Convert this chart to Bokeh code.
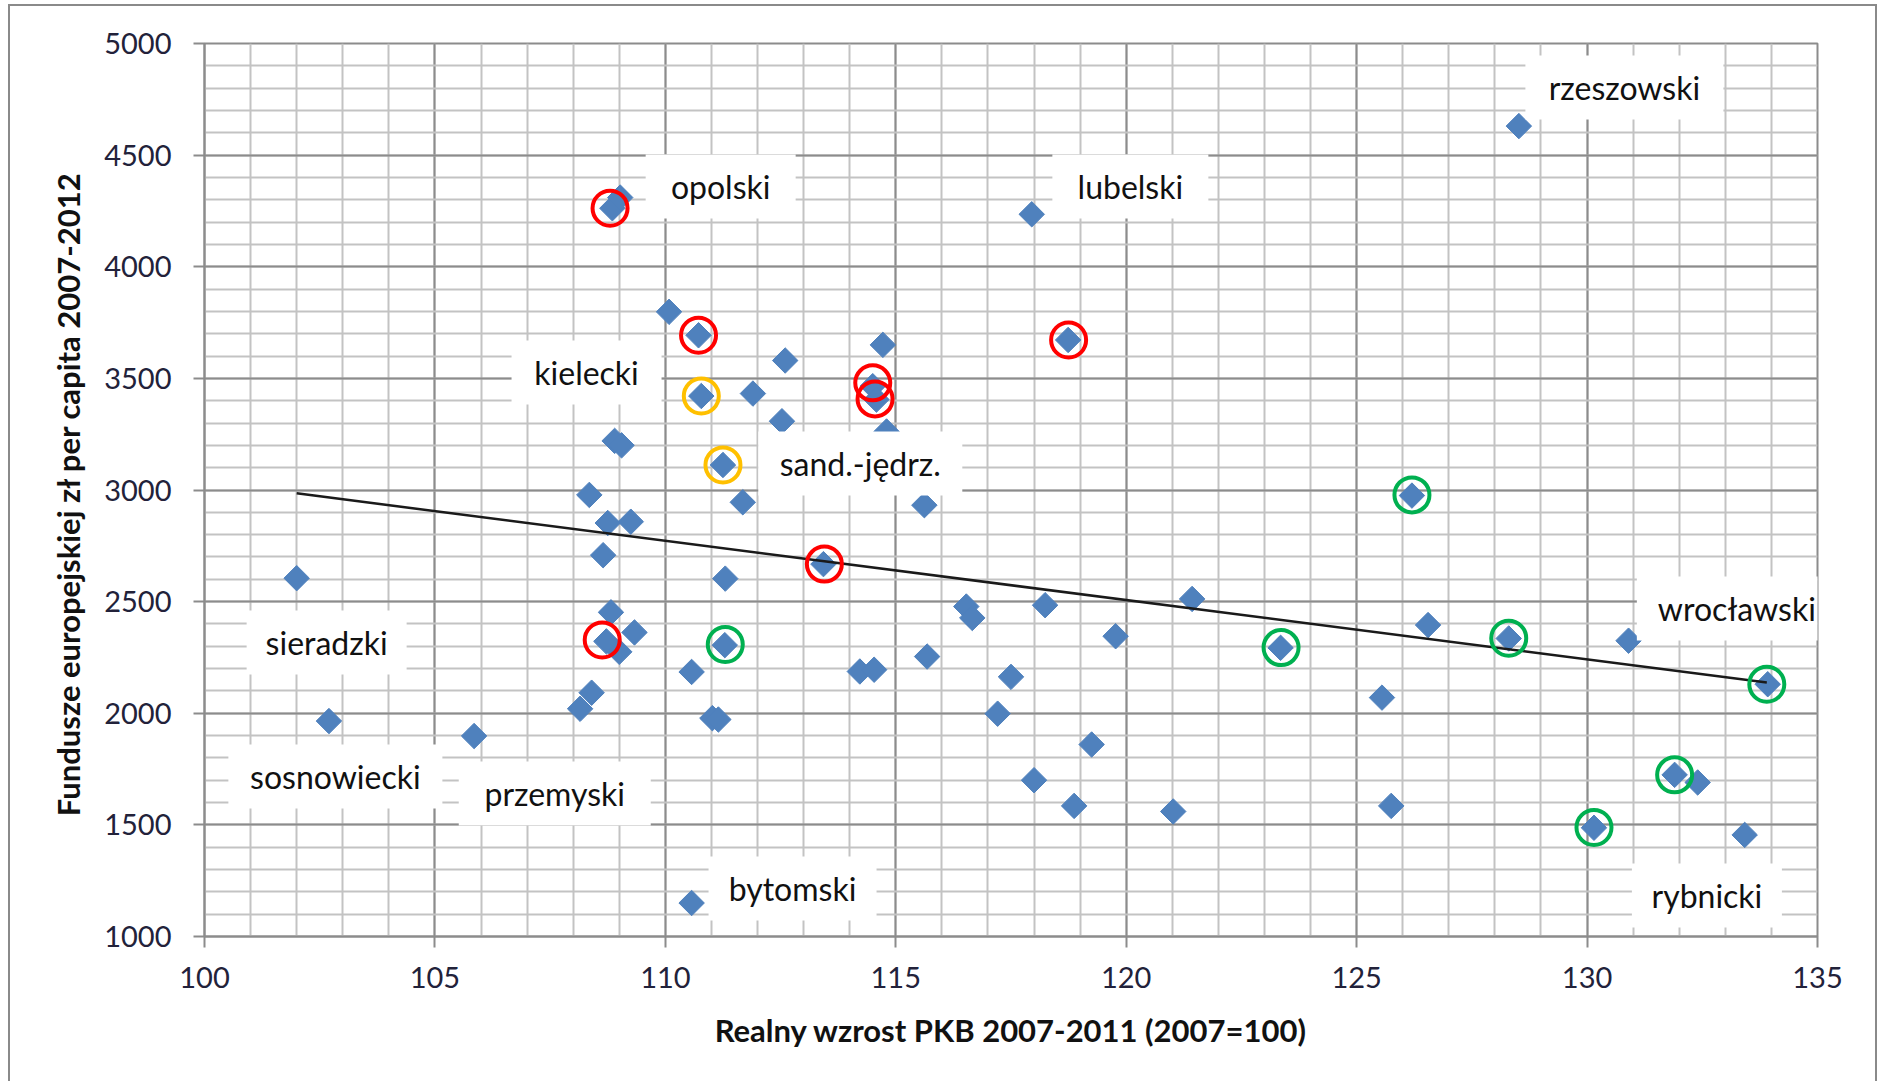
from bokeh.plotting import figure
from bokeh.models import FixedTicker, Range1d, Label
from bokeh.embed import file_html
from bokeh.resources import INLINE
import math

# ---- data ----
gdp_growth = [102.0, 102.7, 105.85, 108.15, 108.4, 108.35, 108.75, 108.65, 108.82, 108.72,
              109.0, 109.33, 109.25, 108.85, 109.02, 110.08, 110.72, 110.78, 108.9, 109.05,
              111.25, 111.68, 112.6, 111.9, 112.53, 114.72, 114.5, 114.58, 114.8, 115.62,
              117.95, 118.74, 113.43, 111.3, 111.29, 110.57, 110.57, 111.02, 111.15, 114.22,
              114.53, 115.68, 116.53, 116.66, 117.5, 117.21, 118.24, 119.77, 121.43, 118.0,
              118.87, 119.25, 121.02, 123.35, 125.55, 125.75, 126.2, 126.55, 128.3, 128.52,
              130.9, 130.15, 131.9, 132.4, 133.42, 133.92]
eu_funds = [2605, 1965, 1898, 2020, 2092, 2978, 2852, 2708, 2452, 2322,
            2275, 2362, 2858, 4262, 4310, 3798, 3693, 3421, 3220, 3200,
            3112, 2945, 3580, 3432, 3308, 3650, 3465, 3405, 3262, 2932,
            4235, 3672, 2668, 2603, 2305, 2185, 1150, 1978, 1972, 2187,
            2195, 2254, 2478, 2427, 2163, 1998, 2484, 2345, 2512, 1700,
            1585, 1860, 1560, 2293, 2070, 1585, 2975, 2395, 2335, 4630,
            2325, 1487, 1724, 1690, 1455, 2130]

trend_x = [102.0, 133.9]
trend_y = [2985, 2138]

red_x = [108.8, 110.72, 114.5, 114.55, 118.75, 113.45, 108.63]
red_y = [4262, 3693, 3480, 3408, 3672, 2668, 2328]
orange_x = [110.78, 111.25]
orange_y = [3421, 3112]
green_x = [111.3, 123.36, 126.2, 128.3, 133.9, 131.9, 130.15]
green_y = [2308, 2294, 2978, 2336, 2130, 1724, 1488]

region_names = ["rzeszowski", "opolski", "lubelski", "kielecki", "sand.-jędrz.", "sieradzki",
                "wrocławski", "sosnowiecki", "przemyski", "bytomski", "rybnicki"]
name_x = [130.81, 111.2, 120.09, 108.29, 114.23, 102.65, 133.25, 102.84, 107.6, 112.76, 132.6]
name_y = [4803, 4360, 4360, 3526, 3119, 2317, 2469, 1717, 1641, 1215, 1184]

x_ticks = [100, 105, 110, 115, 120, 125, 130, 135]
y_ticks = [1000, 1500, 2000, 2500, 3000, 3500, 4000, 4500, 5000]

# ---- layout / style ----
box_w = [198, 150, 156, 150, 204, 160, 200, 214, 192, 168, 150]
box_h = 64

FONT = "Lato"

p = figure(frame_width=1613, frame_height=893,
           min_border_left=194, min_border_right=58, min_border_top=37, min_border_bottom=145,
           x_range=Range1d(100, 135), y_range=Range1d(1000, 5000),
           output_backend="svg", toolbar_location=None)
p.styles = {"border-left": "2px solid #8a8a8a", "border-top": "2px solid #8a8a8a",
            "border-right": "2px solid #8a8a8a", "margin-left": "8px", "margin-top": "4px"}
p.background_fill_color = "white"
p.border_fill_color = "white"
p.outline_line_color = "#8c8c8c"
p.outline_line_width = 2

xt = FixedTicker(ticks=x_ticks, minor_ticks=[v for v in range(100, 136)])
yt = FixedTicker(ticks=y_ticks, minor_ticks=[v for v in range(1000, 5001, 100)])
p.xaxis.ticker = xt
p.yaxis.ticker = yt
for g in (p.xgrid, p.ygrid):
    g.grid_line_color = "#8c8c8c"
    g.grid_line_width = 2
    g.minor_grid_line_color = "#c3c3c3"
    g.minor_grid_line_width = 2
p.xgrid.ticker = xt
p.ygrid.ticker = yt

for ax in (p.xaxis, p.yaxis):
    ax.axis_line_color = "#8c8c8c"
    ax.axis_line_width = 2
    ax.major_tick_line_color = "#8c8c8c"
    ax.major_tick_line_width = 2
    ax.major_tick_out = 11
    ax.major_tick_in = 0
    ax.minor_tick_line_color = None
    ax.major_label_text_font = FONT
    ax.major_label_text_font_size = "29px"
    ax.major_label_text_color = "#22223a"
    ax.axis_label_text_font = FONT
    ax.axis_label_text_font_size = "31px"
    ax.axis_label_text_font_style = "bold"
    ax.axis_label_text_color = "#111111"

p.xaxis.axis_label = "Realny wzrost PKB 2007-2011 (2007=100)"
p.yaxis.axis_label = "Fundusze europejskiej zł per capita  2007-2012"
p.xaxis.major_label_standoff = 19
p.yaxis.major_label_standoff = 22
p.xaxis.axis_label_standoff = 20
p.yaxis.axis_label_standoff = 14

# points
p.scatter(gdp_growth, eu_funds, marker="square", size=18, angle=math.pi / 4,
          fill_color="#4F81BD", line_color="#4F81BD", line_width=1)

# trend line
p.line(trend_x, trend_y, line_color="#1a1a1a", line_width=2.5)

# label boxes
p.rect(name_x, name_y, width=box_w, height=box_h, width_units="screen", height_units="screen",
       fill_color="white", line_color=None)

# highlight circles
p.scatter(red_x, red_y, marker="circle", size=35, fill_color=None, line_color="#FF0000", line_width=4)
p.scatter(orange_x, orange_y, marker="circle", size=35, fill_color=None, line_color="#FFC000", line_width=4)
p.scatter(green_x, green_y, marker="circle", size=35, fill_color=None, line_color="#00B050", line_width=4)

for nx, ny, nt in zip(name_x, name_y, region_names):
    p.add_layout(Label(x=nx, y=ny, text=nt, text_align="center", text_baseline="middle",
                       text_font=FONT, text_font_size="32px", text_color="#111111"))

open("out.html", "w").write(file_html(p, INLINE))
